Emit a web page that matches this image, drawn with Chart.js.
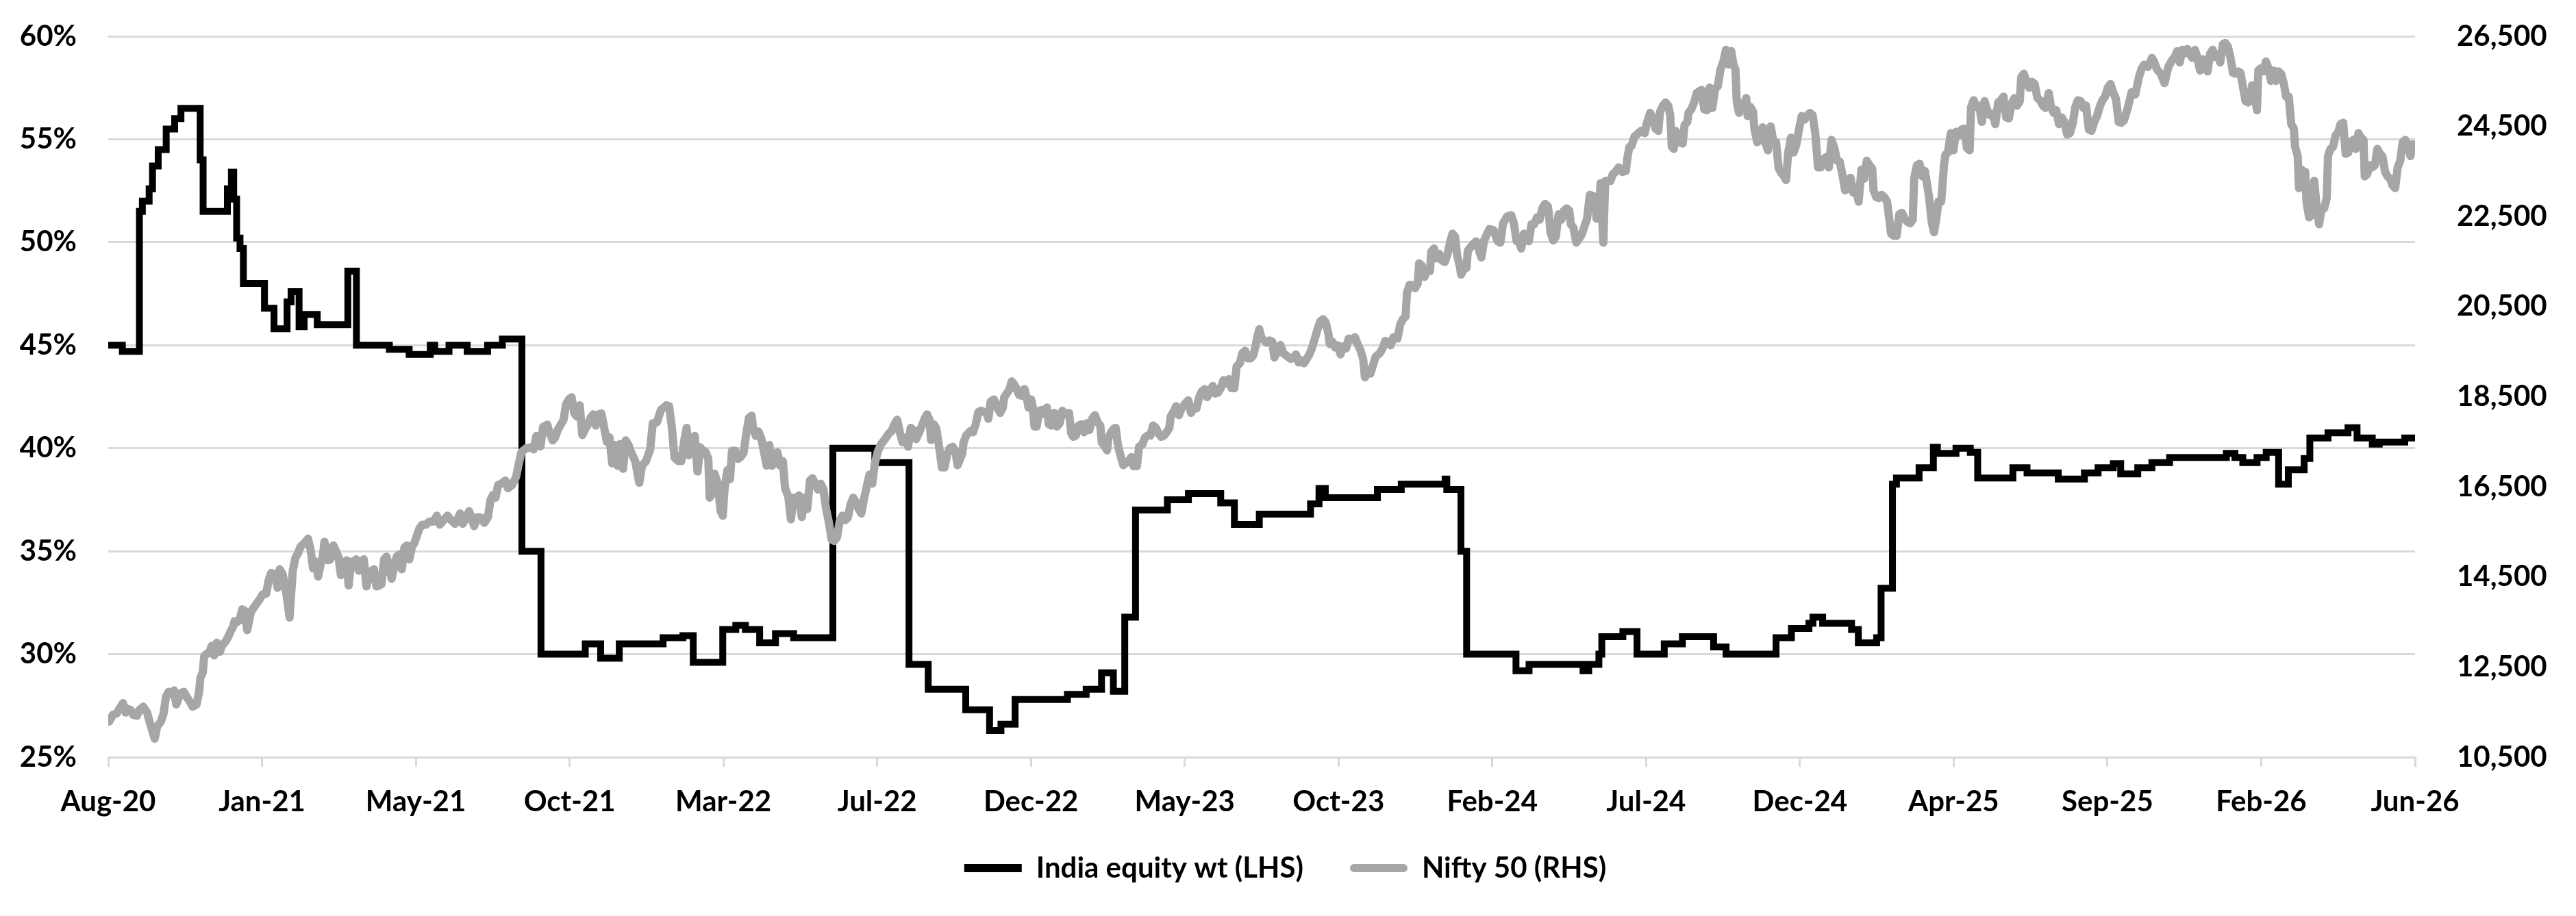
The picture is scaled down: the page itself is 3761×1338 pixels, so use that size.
<!DOCTYPE html>
<html>
<head>
<meta charset="utf-8">
<script src="https://cdn.jsdelivr.net/npm/chart.js@4.4.1/dist/chart.umd.min.js"></script>
<style>
  html, body { margin: 0; padding: 0; background: #ffffff; }
  #wrap { width: 3761px; height: 1338px; }
</style>
</head>
<body>
<div id="wrap"><canvas id="chart" width="3761" height="1338"></canvas></div>
<script>
  // x is a trading-day index, one axis label every 100 days
  const dayStep = 100;
  const dateLabels = ['Aug-20', 'Jan-21', 'May-21', 'Oct-21', 'Mar-22', 'Jul-22', 'Dec-22', 'May-23',
    'Oct-23', 'Feb-24', 'Jul-24', 'Dec-24', 'Apr-25', 'Sep-25', 'Feb-26', 'Jun-26'];
  const pctTicks = [25, 30, 35, 40, 45, 50, 55, 60];
  const niftyTicks = [10500, 12500, 14500, 16500, 18500, 20500, 22500, 24500, 26500];

  // India equity weight (%), value holds from each day until the next change
  const weightDay = [0, 9.2, 20.3, 22.2, 26.6, 28.8, 32.5, 37.7, 43.2, 47.3, 59.8, 61.7, 77.5, 80.1, 81.6, 83.5,
    85.7, 87.9, 101.6, 107.8, 116.3, 118.9, 124.1, 127.4, 135.9, 155.8, 161.4, 182.8, 195.7, 209.4, 212.3,
    221.6, 233.4, 246.7, 256.3, 269.0, 281.4, 310.2, 320.2, 332.3, 360.8, 373.7, 380.4, 399.6, 408.1, 414.3,
    423.6, 433.9, 445.7, 471.2, 498.5, 520.7, 533.2, 557.6, 573.1, 580.5, 589.7, 623.7, 635.9, 645.9, 653.6,
    661.0, 668.0, 688.7, 702.4, 723.4, 732.3, 748.5, 781.8, 787.3, 791.4, 825.3, 840.8, 869.3, 870.4, 879.6,
    883.3, 915.4, 923.9, 959.0, 962.7, 969.3, 971.2, 984.9, 994.1, 1011.8, 1023.6, 1043.9, 1052.0, 1084.5,
    1094.5, 1105.9, 1108.5, 1114.8, 1133.6, 1138.0, 1149.9, 1152.8, 1160.2, 1162.8, 1177.5, 1186.8, 1189.4,
    1201.5, 1210.8, 1215.6, 1238.5, 1247.7, 1268.0, 1285.0, 1293.9, 1303.8, 1308.6, 1319.7, 1328.9, 1340.4,
    1377.3, 1382.9, 1388.0, 1397.3, 1403.2, 1411.3, 1417.6, 1427.9, 1431.6, 1443.4, 1456.4, 1462.3, 1472.2,
    1476.7, 1493.3, 1500];
  const weightPct = [45.0, 44.7, 51.5, 52.0, 52.6, 53.7, 54.5, 55.5, 56.0, 56.5, 54.0, 51.5, 52.6, 53.4, 52.1, 50.2,
    49.7, 48.0, 46.8, 45.8, 47.1, 47.6, 45.9, 46.5, 46.0, 48.6, 45.0, 44.8, 44.55, 45.0, 44.7,
    45.0, 44.7, 45.0, 45.3, 35.0, 30.0, 30.5, 29.8, 30.5, 30.8, 30.9, 29.6, 31.2, 31.4, 31.2,
    30.55, 31.0, 30.8, 40.0, 39.3, 29.5, 28.3, 27.3, 26.3, 26.6, 27.8, 28.05, 28.3, 29.1, 28.2,
    31.8, 37.0, 37.5, 37.8, 37.35, 36.3, 36.8, 37.3, 38.05, 37.6, 38.0, 38.25, 38.5, 38.0, 35.0,
    30.0, 29.2, 29.5, 29.2, 29.5, 30.0, 30.85, 31.1, 30.0, 30.5, 30.85, 30.35, 30.0, 30.8,
    31.25, 31.5, 31.8, 31.5, 31.2, 30.55, 30.8, 33.2, 38.25, 38.55, 39.05, 40.05, 39.75,
    40.0, 39.8, 38.55, 39.05, 38.8, 38.5, 38.8, 39.05, 39.25, 38.75, 39.05, 39.3, 39.55,
    39.75, 39.55, 39.3, 39.55, 39.8, 38.25, 38.95, 39.5, 40.5, 40.75, 41.0, 40.5, 40.2,
    40.3, 40.5, 40.5];

  // Nifty 50 level
  const niftyDay = [0.6, 3.0, 5.5, 7.2, 9.6, 11.3, 12.9, 14.6, 16.2, 18.7, 20.3, 22.8, 25.3, 26.9, 28.6, 30.2,
    31.9, 34.3, 36.0, 37.6, 39.3, 40.9, 42.9, 44.2, 45.9, 47.5, 49.2, 50.8, 53.3, 54.9, 57.4, 59.1, 59.9,
    61.5, 62.4, 64.0, 65.7, 67.3, 68.9, 70.6, 72.6, 73.9, 76.4, 78.0, 79.7, 81.3, 82.1, 83.8, 85.4, 87.1,
    88.7, 90.4, 92.8, 95.3, 96.9, 98.6, 100.3, 102.7, 104.4, 106.0, 108.5, 110.1, 111.5, 113.4, 115.1,
    116.7, 117.9, 119.2, 120.0, 121.7, 123.3, 125.0, 126.6, 128.3, 129.9, 131.6, 133.2, 134.9, 136.5,
    138.2, 139.5, 140.6, 142.8, 144.4, 146.4, 148.1, 149.7, 151.3, 153.0, 155.0, 156.3, 158.0, 159.6,
    161.2, 162.9, 164.5, 166.2, 167.9, 170.3, 172.8, 174.4, 176.1, 177.7, 179.4, 181.0, 182.7, 184.3,
    186.0, 187.6, 189.3, 190.9, 192.6, 194.2, 195.8, 197.5, 199.1, 200.8, 202.4, 204.1, 206.6, 209.0,
    211.5, 213.7, 215.6, 218.1, 220.6, 223.0, 225.5, 227.2, 228.8, 230.5, 232.9, 234.6, 236.2, 237.9,
    240.4, 242.8, 244.5, 246.9, 248.6, 250.2, 251.9, 253.5,
    255.5, 258.2, 259.9, 262.6, 265.2, 267.0, 268.7, 271.4, 274.9, 276.6, 278.4, 281.1, 282.8, 285.5,
    287.2, 289.0, 290.7, 292.5, 294.3, 296.0, 297.8, 299.5, 301.3, 303.1, 304.8, 306.6, 308.3, 310.1,
    311.9, 313.6, 315.4, 317.1, 318.9, 320.7, 322.4, 324.2, 325.9, 327.7, 329.5, 331.2, 333.0, 334.8,
    336.5, 338.3, 340.0, 342.7, 345.3, 347.1, 349.7, 352.4, 354.1, 356.8, 359.4, 361.2, 362.9, 364.7,
    366.5, 368.2, 370.9, 372.6, 374.4, 376.1, 377.4, 379.7, 381.4, 383.2, 384.9, 386.7, 388.5, 390.2,
    391.1, 392.9, 394.3, 396.4, 398.2, 399.6, 400.8, 402.6, 404.3, 405.6, 407.8, 409.6, 411.4, 413.1,
    414.9, 416.6, 418.4, 419.3, 421.1, 422.8, 424.6, 426.3, 428.1, 429.9, 431.6, 433.4, 435.1, 436.9,
    438.7, 440.1, 442.2, 443.9, 445.7, 447.5, 449.2, 451.0, 452.7, 454.5, 456.3, 458.0, 459.8, 461.6,
    463.3, 465.1, 466.8, 468.6, 470.4, 472.1, 473.9, 475.6, 477.4, 479.2, 480.9, 482.7, 484.4, 486.2,
    488.0, 489.7, 491.5, 493.3, 495.0, 496.8, 498.5, 500.3,
    502.4, 505.1, 507.7, 509.5, 511.2, 513.0, 514.8, 516.5, 518.3, 520.1, 521.8, 523.6, 525.3, 527.1,
    528.9, 530.6, 532.4, 534.1, 535.0, 536.8, 538.5, 540.3, 542.1, 543.8, 545.6, 547.3, 549.1, 550.9,
    552.3, 553.5, 555.3, 556.2, 557.9, 560.6, 562.3, 564.1, 565.8, 567.6, 569.4, 571.1, 572.3, 573.8,
    575.9, 578.2, 580.0, 581.7, 582.6, 584.3, 586.1, 587.5, 588.7, 590.5, 592.3, 594.0, 595.8, 597.5,
    598.4, 600.2, 601.1, 602.3, 603.7, 605.5, 607.2, 609.0, 610.4, 611.6, 613.4, 615.1, 616.9, 618.7,
    620.4, 622.2, 624.8, 626.2, 627.5, 629.2, 631.0, 632.8, 634.5, 636.3, 638.0, 639.8, 641.6, 643.3,
    645.1, 646.0, 647.7, 649.5, 650.4, 652.1, 653.9, 655.1, 656.5, 658.3, 660.1, 661.8, 663.6, 665.3,
    666.7, 668.9, 670.3, 672.4, 674.1, 675.9, 677.7, 679.4, 681.2, 682.9, 684.7, 686.5, 688.2, 690.0,
    690.9, 692.6, 694.4, 696.2, 697.9, 699.7, 702.3, 704.1, 705.8, 707.6, 709.4, 711.1, 712.9, 714.6,
    716.4, 718.2, 719.9, 721.7, 723.4, 725.2, 727.0, 728.7, 730.5, 732.3, 733.7, 735.8, 737.5, 739.3,
    741.1, 742.8, 744.6, 746.0, 747.2, 748.5, 749.9, 751.6, 753.4, 755.1, 756.9, 758.3, 760.1, 762.2,
    764.0,
    767.0, 768.8, 770.5, 772.3, 774.0, 775.8, 777.6, 779.3, 781.1, 782.8, 784.6, 786.4, 788.1, 789.9,
    791.7, 793.4, 794.3, 796.1, 797.8, 799.6, 801.3, 803.1, 804.9, 806.6, 808.4, 810.7, 812.4, 814.2,
    816.0, 817.2, 819.0, 820.7, 822.5, 824.2, 826.9, 828.6, 830.4, 832.2, 833.9, 835.7, 838.3, 840.1,
    841.8, 843.6, 844.5, 846.2, 848.0, 849.8, 851.5, 852.4, 854.2, 855.9, 857.7, 859.5, 860.3, 862.1,
    863.9, 865.6, 867.4, 869.1, 870.9, 872.7, 874.1, 875.8, 877.1, 878.8, 879.7, 881.5, 883.2, 884.1,
    885.9, 887.6, 889.4, 891.2, 892.9, 894.7, 896.4, 898.2, 900.8, 903.5, 905.2, 907.0, 909.6, 912.3,
    914.0, 915.8, 917.6, 918.8, 920.6, 922.3, 923.7, 925.5, 927.3, 929.0, 930.8, 932.5, 934.3, 936.1,
    936.9, 937.8, 939.6, 941.3, 943.1, 944.9, 946.6, 948.4, 950.1, 951.0, 952.8, 954.6, 956.3, 958.1,
    959.8, 961.6, 963.4, 965.1, 966.9, 967.8, 969.2, 970.4, 972.2, 973.4, 975.1, 976.9, 978.3, 980.1,
    982.2, 984.5, 986.8, 988.0, 989.2, 990.6, 992.4, 995.0, 996.8, 999.1, 1000.3, 1002.6, 1004.4, 1006.1,
    1007.9, 1009.1, 1010.9, 1012.7, 1014.4, 1015.7, 1016.7, 1018.0, 1019.2, 1021.5, 1023.8, 1025.0,
    1026.8, 1027.6, 1029.4, 1031.2, 1032.9,
    1036.1, 1037.8, 1039.6, 1041.3, 1043.1, 1044.9, 1046.6, 1048.4, 1050.1, 1051.9, 1053.7, 1055.4,
    1056.8, 1058.1, 1058.9, 1060.4, 1061.6, 1063.4, 1065.1, 1066.0, 1067.8, 1069.5, 1070.4, 1072.2,
    1073.9, 1075.7, 1077.4, 1079.2, 1081.0, 1082.7, 1084.5, 1086.2, 1088.0, 1089.8, 1091.0, 1092.4,
    1094.2, 1095.9, 1097.7, 1099.5, 1101.2, 1103.0, 1104.7, 1106.5, 1108.3, 1110.0, 1111.8, 1113.5,
    1115.3, 1117.1, 1118.8, 1120.6, 1122.4, 1124.1, 1125.9, 1127.6, 1129.4, 1131.2, 1132.9, 1134.7,
    1136.4, 1138.2, 1140.0, 1141.7, 1143.5, 1145.2, 1147.0, 1147.9, 1149.6, 1151.4, 1153.2, 1154.9,
    1156.7, 1157.6, 1159.3, 1161.1, 1162.9, 1164.6, 1166.4, 1168.1, 1169.9, 1171.7, 1173.4, 1174.3,
    1176.1, 1177.8, 1179.6, 1181.3, 1183.1, 1184.0, 1185.7, 1187.2, 1188.4, 1190.1, 1191.9, 1193.7,
    1194.6, 1196.3, 1198.1, 1199.8, 1201.6, 1203.4, 1205.1, 1206.9, 1208.6, 1210.4, 1211.3, 1213.0,
    1214.8, 1216.6, 1218.3, 1220.1, 1221.8, 1223.6, 1225.4, 1227.1, 1228.9, 1230.7, 1232.4, 1234.2,
    1235.9, 1237.7, 1239.5, 1241.2, 1243.0, 1243.9, 1245.6, 1247.4, 1249.1, 1250.9, 1252.7, 1254.4,
    1256.2, 1258.0, 1259.7, 1261.8, 1263.2, 1265.0, 1266.7, 1268.5, 1270.3, 1272.0, 1273.8, 1275.6,
    1277.3, 1279.1, 1280.8, 1282.6, 1284.4, 1286.1, 1287.9, 1289.6, 1291.4, 1293.2, 1294.9, 1296.7,
    1298.5, 1300.2, 1302.0, 1303.7, 1305.5, 1307.3, 1309.0,
    1310.7, 1313.2, 1315.7, 1318.1, 1320.6, 1322.3, 1323.9, 1326.4, 1328.9, 1330.5, 1332.1, 1334.6,
    1337.1, 1339.6, 1342.0, 1343.7, 1345.3, 1347.0, 1348.6, 1350.3, 1351.9, 1353.6, 1355.2, 1356.9,
    1358.5, 1360.2, 1361.8, 1363.5, 1365.1, 1366.8, 1368.4, 1370.1, 1371.7, 1373.3, 1375.0, 1376.6,
    1378.3, 1379.9, 1381.6, 1383.2, 1384.9, 1386.5, 1388.2, 1389.8, 1391.5, 1393.1, 1394.0, 1395.6,
    1397.2, 1398.1, 1399.7, 1401.4, 1403.0, 1404.7, 1406.3, 1408.0, 1409.6, 1411.3, 1412.9, 1414.6,
    1416.2, 1417.9, 1419.5, 1421.2, 1422.0, 1423.7, 1424.5, 1426.1, 1427.8, 1428.6, 1429.4, 1431.1,
    1432.7, 1434.4, 1436.0, 1437.6, 1439.3, 1440.9, 1442.6, 1443.4, 1445.0, 1446.7, 1448.3, 1450.0,
    1451.6, 1453.3, 1454.9, 1456.6, 1458.2, 1459.9, 1461.5, 1463.2, 1464.8, 1466.5, 1467.3, 1468.9,
    1470.6, 1472.2, 1473.9, 1475.5, 1477.2, 1478.8, 1480.5, 1482.1, 1483.8, 1485.4, 1487.1, 1488.7,
    1490.4, 1492.0, 1493.7, 1495.3, 1497.0, 1498.6, 1500.0];
  const niftyLevel = [11290, 11440, 11470, 11570, 11700, 11490, 11570, 11550, 11440, 11420, 11550, 11620, 11490, 11290, 11090, 10910,
    11190, 11290, 11470, 11850, 11950, 11900, 11980, 11670, 11820, 11930, 11950, 11850, 11720, 11620, 11670, 11950, 12260,
    12380, 12740, 12790, 12810, 12970, 12760, 13040, 12840, 12970, 13070, 13170, 13300, 13400, 13520, 13500, 13550, 13780,
    13750, 13320, 13730, 13850, 13930, 14010, 14110, 14130, 14440, 14590, 14560, 14260, 14670, 14560, 14290,
    13930, 13600, 14240, 14640, 14920, 15020, 15170, 15220, 15280, 15350, 15100, 14690, 14840, 14510,
    14790, 14950, 15280, 14870, 14890, 15200, 15070, 14950, 14540, 14820, 14870, 14310, 14840, 14790,
    14890, 14640, 14840, 14890, 14290, 14620, 14670, 14290, 14310, 14340, 14890, 14950, 14740, 14460,
    14740, 14950, 15000, 14670, 15150, 15200, 14890, 15170, 15250, 15430, 15580, 15660, 15660, 15730,
    15730, 15860, 15660, 15760, 15860, 15760, 15680, 15780, 15910, 15680, 15810, 15960, 15830, 15630,
    15830, 15810, 15700, 15830, 16210, 16320, 16260, 16540,
    16570, 16640, 16470, 16540, 16720, 17020, 17270, 17350, 17380, 17330, 17630, 17400, 17830, 17880,
    17680, 17530, 17600, 17780, 17880, 17980, 18340, 18440, 18490, 18130, 18060, 18310, 17650, 17780,
    17880, 18030, 18110, 17860, 18110, 18130, 17830, 17500, 17600, 17020, 17430, 16970, 17450, 16900,
    17530, 17430, 17270, 17070, 16590, 16970, 17070, 17330, 17910, 17930, 18210, 18260, 18310, 18290,
    17830, 17150, 17070, 17070, 17500, 17810, 17200, 17400, 17630, 16840, 17380, 17300, 17270, 17120,
    16260, 16360, 16790, 16570, 15960, 15860, 16470, 16870, 16670, 17300, 17300, 17120, 17170, 17250,
    17680, 18030, 18080, 17810, 17630, 17730, 17580, 17300, 16970, 17430, 16970, 17170, 17270, 16970,
    17070, 16470, 16290, 15780, 16260, 16210, 16310, 15830, 16260, 16010, 16640, 16690, 16570, 16440,
    16570, 16440, 16010, 15710, 15330, 15300, 15380, 15730, 15860, 15760, 15810, 16110, 16260, 16160,
    16010, 15910, 16240, 16520, 16770, 16570, 17020, 17270,
    17440, 17560, 17690, 17740, 17890, 17990, 17710, 17490, 17590, 17390, 17810, 17760, 17560, 17690,
    17840, 17990, 18110, 17990, 17540, 17890, 17790, 17390, 16930, 16930, 17230, 17360, 17390, 17290,
    16980, 17080, 17230, 17490, 17640, 17740, 17710, 17890, 18160, 18190, 18160, 18140, 18010, 18390,
    18440, 18260, 18140, 18260, 18490, 18570, 18670, 18840, 18790, 18690, 18540, 18520, 18670, 18440,
    18260, 18440, 18290, 17840, 17840, 18190, 18210, 18110, 18260, 17890, 17860, 18140, 17840, 17910,
    18190, 18110, 18140, 17690, 17610, 17640, 17860, 17890, 17710, 17910, 17760, 18010, 18090, 17940,
    17860, 17490, 17410, 17310, 17590, 17710, 17790, 17810, 17440, 17180, 16980, 17030, 17080, 17160,
    16960, 16960, 17390, 17440, 17590, 17640, 17640, 17860, 17810, 17690, 17610, 17640, 17710, 17810,
    18060, 18160, 18290, 18090, 18240, 18320, 18420, 18140, 18240, 18240, 18490, 18620, 18670, 18490,
    18620, 18740, 18570, 18590, 18690, 18870, 18790, 18890, 18690, 18690, 19170, 19240, 19470, 19520,
    19350, 19350, 19420, 19620, 19820, 20000, 19800, 19750, 19700, 19750, 19720, 19370, 19500, 19650,
    19470,
    19390, 19340, 19360, 19440, 19260, 19310, 19240, 19340, 19440, 19590, 19790, 20000, 20170, 20220,
    20150, 19900, 19670, 19720, 19590, 19640, 19440, 19620, 19570, 19790, 19770, 19820, 19670, 19540,
    19340, 18930, 19090, 19010, 19210, 19390, 19470, 19570, 19740, 19720, 19640, 19820, 19790, 20100,
    20220, 20280, 20810, 20980, 20980, 20910, 21010, 21460, 21410, 21160, 21310, 21290, 21720, 21790,
    21570, 21670, 21520, 21490, 21670, 21950, 22120, 22050, 21640, 21410, 21210, 21340, 21360, 21740,
    21820, 21890, 21950, 21770, 21590, 21970, 22100, 22220, 22200, 21950, 21920, 22350, 22500, 22530,
    22350, 21950, 21920, 21790, 22120, 21970, 21950, 22330, 22330, 22480, 22430, 22680, 22780, 22730,
    22530, 22150, 21970, 22050, 22550, 22430, 22630, 22680, 22630, 22330, 22250, 21920, 22000, 22100,
    22270, 22450, 22980, 22960, 22930, 22450, 22580, 23240, 21920, 23290, 23290, 23290, 23440, 23490,
    23590, 23490, 23510, 23840, 24050, 24070, 24270, 24350, 24400, 24350, 24550, 24800, 24680, 24450,
    24400, 24830, 24960, 25030, 24960, 24750, 24050, 24000, 24400, 24150, 24120, 24530,
    24600, 24800, 24880, 25030, 25240,
    25310, 24880, 24860, 25360, 24910, 25340, 25390, 25770, 25920, 26200, 25870, 26170,
    25870, 25770, 25060, 24800, 25010, 24930, 25130, 24730, 24930, 24830, 24450, 24150,
    24200, 24480, 24150, 23970, 24500, 24170, 24150, 23570, 23460, 23390, 23310, 23920,
    24250, 23920, 24100, 24450, 24730, 24650, 24730, 24800, 24750, 24350, 23590, 23590,
    23770, 23820, 23590, 24200, 24020, 23740, 23720, 23440, 23080, 23130, 23360, 23030,
    23130, 22830, 23540, 23340, 23740, 23640, 23570, 23080, 22930, 22910, 22980, 22930,
    22830, 22580, 22120, 22070, 22070, 22550, 22580, 22450, 22380, 22350, 22430, 23340,
    23640, 23670, 23390, 23510, 23130, 22930, 22380, 22150, 22380, 22830, 22830, 23640,
    23870, 23920, 24350, 23970, 24380, 24300, 24430, 24450, 24020, 23970, 24930, 25080,
    24930, 24960, 24600, 25060, 24860, 24750, 24780, 24550, 25030, 25080, 25160, 24700,
    24680, 25010, 25130, 24960, 25060, 25590, 25670, 25490, 25360, 25490, 25440, 25130,
    25080, 24960, 24910, 25240, 24960, 24800, 24860, 24550, 24700, 24600, 24320, 24350,
    24550, 24930, 25080, 25060, 24910, 24960, 24430, 24400, 24600, 24730, 24930, 25080,
    25160, 25360, 25440, 25260, 25110, 24600, 24580,
    24630, 24910, 25260, 25210, 25610, 25790, 25870, 25820, 26020, 25920, 25770, 25670,
    25460, 25820, 25970, 26040, 26170, 25920, 26200, 26120, 26220, 26100, 26020, 26200,
    26020, 25740, 25990, 25970, 25720, 26120, 26200, 26040, 26100, 25920, 26320, 26350,
    26270, 26040, 25690, 25670, 25720, 25690, 25360, 25060, 25030, 25110, 25410, 25260,
    24860, 25740, 25790, 25720, 25940, 25790, 25510, 25740, 25510, 25720, 25670, 25460,
    25160, 25160, 24550, 24450, 24050, 23840, 23130, 23540, 23190, 23490, 22830, 22480,
    22530, 23290, 22730, 22330, 22680, 22680, 22910, 23840, 24000, 24050, 24300, 24370,
    24550, 24580, 23890, 23920, 24150, 24200, 24000, 24350, 24250, 24200, 23390, 23440,
    23640, 23590, 23640, 24000, 23890, 23840, 23490, 23390, 23340, 23190, 23130, 23590,
    23740, 24150, 24200, 24100, 23840, 24100, 24000];

  const FONT = 'Lato, "Open Sans", sans-serif';
  const GRID = '#d9d9d9';
  const tickFont = { family: FONT, size: 42, weight: 'bold' };

  function toPoints(xs, ys) {
    return xs.map((x, i) => ({ x: x, y: ys[i] }));
  }

  // Move the legend row up under the axis labels
  const legendNudge = {
    id: 'legendNudge',
    afterLayout(chart) {
      const lg = chart.legend;
      if (!lg) return;
      lg.top -= 22;
      lg.bottom -= 22;
      lg.left -= 4;
      lg.right -= 4;
    }
  };

  const ctx = document.getElementById('chart').getContext('2d');

  new Chart(ctx, {
    type: 'line',
    data: {
      datasets: [
        {
          label: 'India equity wt (LHS)',
          data: toPoints(weightDay, weightPct),
          yAxisID: 'y',
          borderColor: '#000000',
          backgroundColor: '#000000',
          borderWidth: 10,
          stepped: true,
          pointRadius: 0,
          order: 2
        },
        {
          label: 'Nifty 50 (RHS)',
          data: toPoints(niftyDay, niftyLevel),
          yAxisID: 'y2',
          borderColor: '#a6a6a6',
          backgroundColor: '#a6a6a6',
          borderWidth: 12,
          borderJoinStyle: 'round',
          borderCapStyle: 'round',
          tension: 0,
          pointRadius: 0,
          order: 1
        }
      ]
    },
    plugins: [legendNudge],
    options: {
      responsive: false,
      devicePixelRatio: 1,
      animation: false,
      layout: { padding: { top: 53, bottom: 17, left: 0, right: 0 } },
      plugins: {
        tooltip: { enabled: false },
        legend: {
          position: 'bottom',
          labels: {
            color: '#000000',
            font: tickFont,
            boxWidth: 84,
            boxHeight: 12,
            padding: 68,
            useBorderRadius: true,
            generateLabels: chart => chart.data.datasets.map((ds, i) => ({
              text: ds.label,
              fillStyle: ds.borderColor,
              strokeStyle: ds.borderColor,
              fontColor: '#000000',
              lineWidth: 0,
              borderRadius: i === 1 ? 6 : 0,
              hidden: false,
              datasetIndex: i
            }))
          }
        }
      },
      scales: {
        x: {
          type: 'linear',
          min: 0,
          max: dayStep * (dateLabels.length - 1),
          afterBuildTicks: scale => {
            scale.ticks = dateLabels.map((_, i) => ({ value: i * dayStep }));
          },
          afterFit: scale => { scale.height = 95; },
          ticks: {
            autoSkip: false,
            maxRotation: 0,
            color: '#000000',
            padding: 26,
            font: tickFont,
            callback: value => dateLabels[Math.round(value / dayStep)]
          },
          grid: { drawOnChartArea: false, drawTicks: true, tickLength: 14, color: GRID, lineWidth: 3 },
          border: { display: true, color: GRID, width: 3 }
        },
        y: {
          position: 'left',
          min: 25,
          max: 60,
          afterBuildTicks: scale => {
            scale.ticks = pctTicks.map(v => ({ value: v }));
          },
          afterFit: scale => { scale.width = 158; },
          ticks: {
            color: '#000000',
            padding: 16,
            font: tickFont,
            callback: value => value + '%'
          },
          grid: { color: GRID, lineWidth: 3, drawTicks: true, tickLength: 30, tickColor: 'transparent' },
          border: { display: false }
        },
        y2: {
          position: 'right',
          min: 10500,
          max: 26500,
          afterBuildTicks: scale => {
            scale.ticks = niftyTicks.map(v => ({ value: v }));
          },
          afterFit: scale => { scale.width = 235; },
          ticks: {
            color: '#000000',
            padding: 16,
            font: tickFont,
            callback: value => value.toLocaleString('en-US')
          },
          grid: { drawOnChartArea: false, drawTicks: true, tickLength: 45, tickColor: 'transparent' },
          border: { display: false }
        }
      }
    }
  });
</script>
</body>
</html>
